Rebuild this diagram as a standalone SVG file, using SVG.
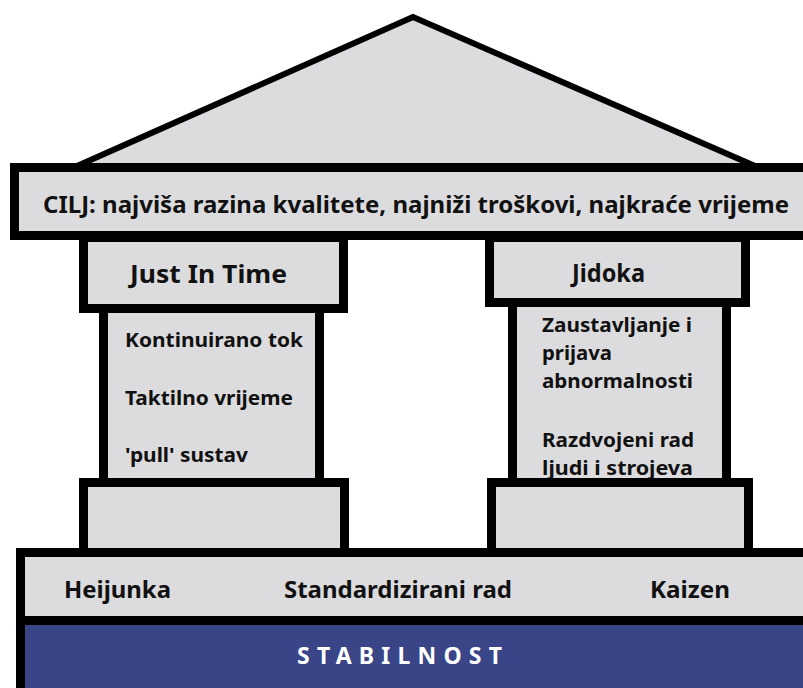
<svg xmlns="http://www.w3.org/2000/svg" width="803" height="688" viewBox="0 0 803 688">
<style>
.box{fill:#DCDCDE;stroke:#000;stroke-width:9}
.t{font-family:"Noto Sans","Liberation Sans",sans-serif;font-weight:bold;fill:#111}
.h{font-size:25px}
.s{font-size:19px}
.b{font-size:23px}
</style>
<rect x="0" y="0" width="803" height="688" fill="#fff"/>
<g id="roof">
<polygon points="413,17 77,166 755,166" fill="#DCDCDE" stroke="#000" stroke-width="6" stroke-linejoin="miter"/>
</g>
<g id="jit">
<rect class="box" x="103.5" y="305" width="216" height="180"/>
<text class="t s" x="125" y="347" textLength="178" lengthAdjust="spacingAndGlyphs">Kontinuirano tok</text>
<text class="t s" x="125" y="405" textLength="168" lengthAdjust="spacingAndGlyphs">Taktilno vrijeme</text>
<text class="t s" x="125" y="462" textLength="123" lengthAdjust="spacingAndGlyphs">'pull' sustav</text>
<rect class="box" x="83.5" y="237.5" width="260" height="71"/>
<text class="t h" x="130" y="283" textLength="157" lengthAdjust="spacingAndGlyphs">Just In Time</text>
<rect class="box" x="83.5" y="482.5" width="261" height="75"/>
</g>
<g id="jidoka">
<rect class="box" x="512.5" y="300" width="214" height="185"/>
<text class="t s" x="542" y="332" textLength="150" lengthAdjust="spacingAndGlyphs">Zaustavljanje i</text>
<text class="t s" x="542" y="360" textLength="70" lengthAdjust="spacingAndGlyphs">prijava</text>
<text class="t s" x="542" y="388" textLength="151" lengthAdjust="spacingAndGlyphs">abnormalnosti</text>
<text class="t s" x="542" y="447" textLength="152" lengthAdjust="spacingAndGlyphs">Razdvojeni rad</text>
<text class="t s" x="542" y="475" textLength="151" lengthAdjust="spacingAndGlyphs">ljudi i strojeva</text>
<rect class="box" x="489.5" y="237.5" width="256" height="65"/>
<text class="t h" x="572" y="282" textLength="73" lengthAdjust="spacingAndGlyphs">Jidoka</text>
<rect class="box" x="491.5" y="482.5" width="257" height="75"/>
</g>
<g id="goal">
<rect class="box" x="14.5" y="167.5" width="800" height="68"/>
<text class="t" x="43" y="213" font-size="23" font-weight="600" textLength="746" lengthAdjust="spacingAndGlyphs">CILJ: najviša razina kvalitete, najniži troškovi, najkraće vrijeme</text>
</g>
<g id="foundation">
<rect class="box" x="20.5" y="552.5" width="800" height="68"/>
<text class="t b" x="64" y="598" textLength="107" lengthAdjust="spacingAndGlyphs">Heijunka</text>
<text class="t b" x="284" y="598" textLength="228" lengthAdjust="spacingAndGlyphs">Standardizirani rad</text>
<text class="t b" x="650" y="598" textLength="80" lengthAdjust="spacingAndGlyphs">Kaizen</text>
</g>
<g id="stability">
<rect x="20.5" y="620.5" width="800" height="80" fill="#3A4588" stroke="#000" stroke-width="9"/>
<text class="t" x="297" y="664" font-size="23" style="fill:#fff" textLength="205" lengthAdjust="spacing">STABILNOST</text>
</g>
<g id="connectors"/>
</svg>
